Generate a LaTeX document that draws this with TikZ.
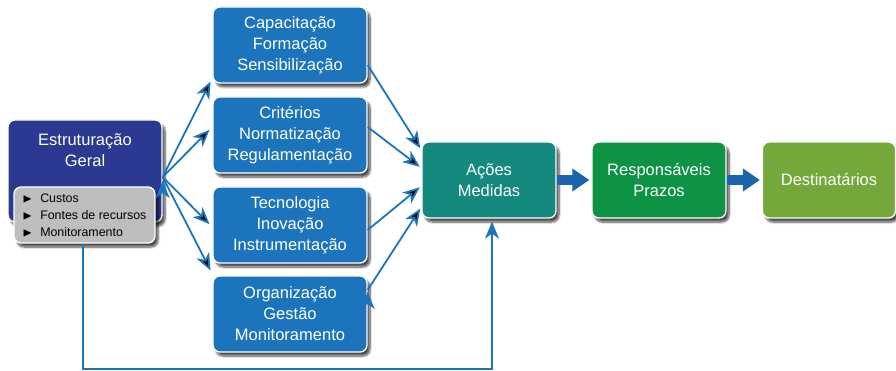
\documentclass[tikz,border=0pt]{standalone}
\usepackage{amssymb}
\usepackage{fontspec}
\setmainfont{Liberation Sans}
\usetikzlibrary{arrows.meta,shadows.blur,calc}

\definecolor{geralblue}{HTML}{2B3990}
\definecolor{boxblue}{HTML}{1C75BC}
\definecolor{acoesteal}{HTML}{15897D}
\definecolor{respgreen}{HTML}{0E9345}
\definecolor{destolive}{HTML}{75A83A}
\definecolor{subgray}{HTML}{BCBEC0}
\definecolor{linkblue}{HTML}{1B75BC}
\definecolor{bigblue}{HTML}{1A66AE}

\begin{document}
\begin{tikzpicture}[x=1pt,y=-1pt,>={Stealth[length=17pt,width=14pt,inset=5pt]},
                    node distance=170pt]
\tikzstyle{box}=[rectangle,rounded corners=7pt,draw=white,line width=1.3pt,
  text=white,align=center,font=\fontsize{16.5}{21}\selectfont,inner sep=0pt,
  minimum width=154pt,minimum height=76pt,
  blur shadow={shadow xshift=3pt,shadow yshift=-4pt,shadow blur steps=8,shadow opacity=70}]
\tikzstyle{sub}=[box,fill=subgray,text=black,align=left,
  font=\fontsize{12.4}{17}\selectfont,minimum width=141pt,minimum height=56pt]
\tikzstyle{link}=[draw=linkblue,line width=1.8pt,->]
\tikzstyle{bigarrow}=[draw=bigblue,line width=10pt,-{Triangle[length=17pt,width=22pt]}]
\newcommand{\tri}{$\blacktriangleright$\hspace{8pt}}

\useasboundingbox (0,0) rectangle (896,371);

% left side
\node[box,fill=geralblue,minimum height=102pt,
      label={[text=white,align=center,inner sep=0pt,font=\fontsize{16.5}{21}\selectfont,
              below=14pt]north:{Estruturação\\Geral}}] (geral) at (85,171) {};
\node[sub] (custos) at (84.5,215) {\tri Custos\\\tri Fontes de recursos\\\tri Monitoramento};

% the four themes
\node[box,fill=boxblue] (capac) at (290,45) {Capacitação\\Formação\\Sensibilização};
\node[box,fill=boxblue] (crit) at (290,135) {Critérios\\Normatização\\Regulamentação};
\node[box,fill=boxblue] (tecno) at (290,225) {Tecnologia\\Inovação\\Instrumentação};
\node[box,fill=boxblue] (organ) at (290,314) {Organização\\Gestão\\Monitoramento};

% chain
\node[box,fill=acoesteal,minimum width=134pt] (acoes) at (489,180) {Ações\\Medidas};
\node[box,fill=respgreen,minimum width=134pt] (resp) [right of=acoes] {Responsáveis\\Prazos};
\node[box,fill=destolive,minimum width=133pt] (dest) [right of=resp] {Destinatários};

\coordinate (hub) at ($(geral.east)+(0,6)$);
\path[link,shorten >=4pt]
  (hub) edge ($(capac.west)+(0,33)$)
  (hub) edge ($(crit.west)+(0,-8)$)
  (hub) edge ($(tecno.west)+(0,2)$)
  (hub) edge ($(organ.west)+(0,-40)$);
\path[link,shorten >=2pt]
  ($(capac.east)+(0,20)$) edge ($(acoes.west)+(0,-30)$)
  ($(crit.east)+(0,-8)$) edge ($(acoes.west)+(0,-12)$)
  ($(tecno.east)+(0,5)$) edge ($(acoes.west)+(0,6)$)
  ($(organ.east)+(0,-24)$) edge ($(acoes.west)+(0,27)$);

\draw[bigarrow,shorten >=2pt] (acoes) -- (resp);
\draw[bigarrow,shorten >=2pt] (resp) -- (dest);

% feedback
\draw[link,shorten >=3pt] ($(custos.south)+(-1.5,0)$) -- ++(0,125) -| ($(acoes.south)+(3,0)$);
\end{tikzpicture}
\end{document}
